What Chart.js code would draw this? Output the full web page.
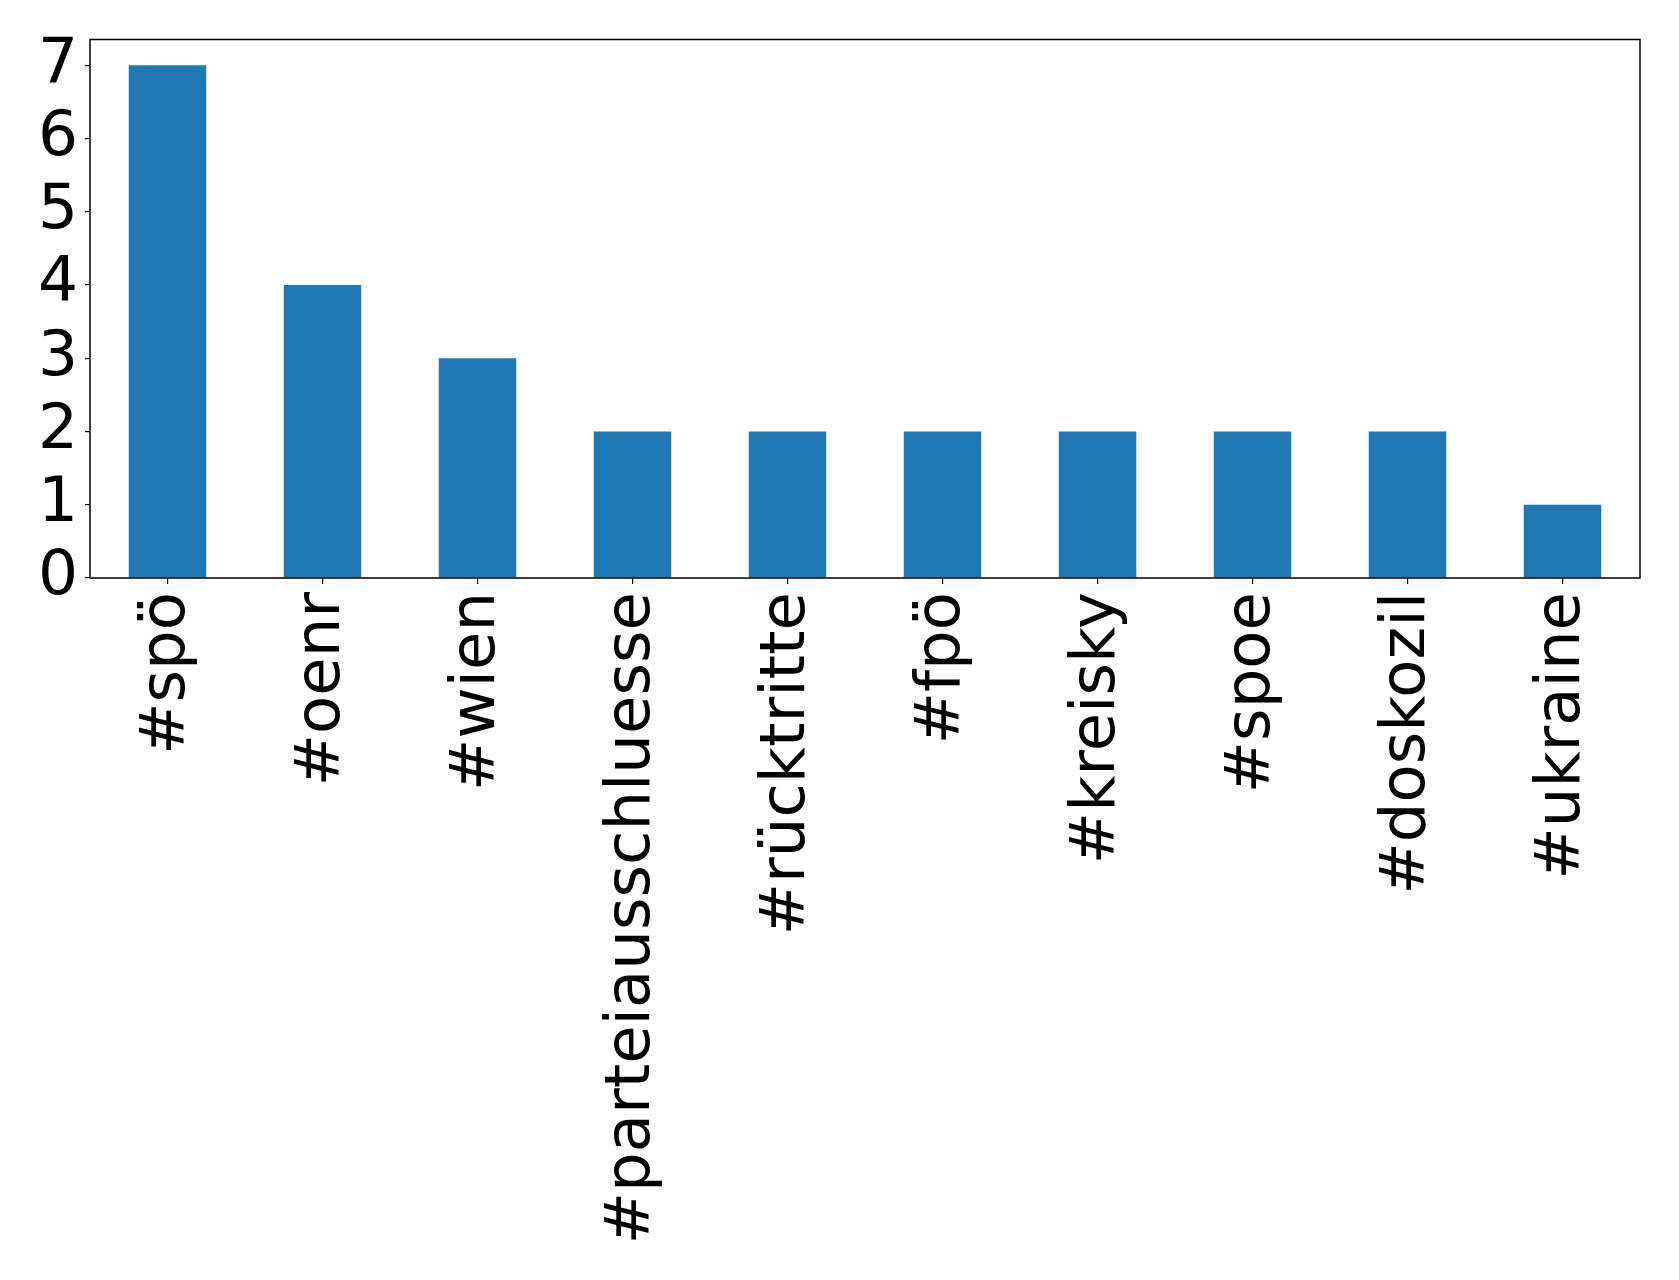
<!DOCTYPE html>
<html>
<head>
<meta charset="utf-8">
<script src="https://cdn.jsdelivr.net/npm/chart.js@4/dist/chart.umd.min.js"></script>
<style>
html,body{margin:0;padding:0;background:#fff;}
#wrap{width:1679px;height:1280px;position:relative;}
</style>
</head>
<body>
<div id="wrap"><canvas id="c" width="1679" height="1280"></canvas></div>
<script>
const categories = ["#spö","#oenr","#wien","#parteiausschluesse","#rücktritte","#fpö","#kreisky","#spoe","#doskozil","#ukraine"];
const counts = [7,4,3,2,2,2,2,2,2,1];
const yTicks = [0,1,2,3,4,5,6,7];

const frame = {
  id:'frame',
  afterDatasetsDraw(chart){
    const {ctx, chartArea:a} = chart;
    ctx.save();
    ctx.strokeStyle = '#000';
    ctx.lineWidth = 1.5;
    ctx.strokeRect(a.left, a.top, a.right - a.left, a.bottom - a.top);
    ctx.restore();
  }
};

new Chart(document.getElementById('c'), {
  type:'bar',
  data:{
    labels:categories,
    datasets:[{data:counts, backgroundColor:'#1f77b4', borderWidth:0, categoryPercentage:1.0, barPercentage:0.5}]
  },
  options:{
    responsive:false,
    animation:false,
    events:[],
    layout:{padding:{top:39.5, right:39, left:0, bottom:0}},
    plugins:{legend:{display:false}, tooltip:{enabled:false}},
    scales:{
      x:{
        grid:{display:true, offset:false, drawOnChartArea:false, tickLength:6, color:'#000', lineWidth:1.2},
        border:{display:false},
        ticks:{font:{family:'DejaVu Sans', size:62.5}, color:'#000', minRotation:90, maxRotation:90, autoSkip:false, padding:8},
        afterFit(s){ s.height = 1280 - 578; s.paddingLeft = 0; s.paddingRight = 0; }
      },
      y:{
        min:0, max:7.35,
        afterBuildTicks(s){ s.ticks = yTicks.map(v=>({value:v})); },
        grid:{display:true, drawOnChartArea:false, tickLength:5, color:'#000', lineWidth:1.2},
        border:{display:false},
        ticks:{font:{family:'DejaVu Sans', size:63}, color:'#000', padding:7, autoSkip:false, includeBounds:false},
        afterFit(s){ s.width = 90; s.paddingTop = 0; s.paddingBottom = 0; }
      }
    }
  },
  plugins:[frame]
});
</script>
</body>
</html>
